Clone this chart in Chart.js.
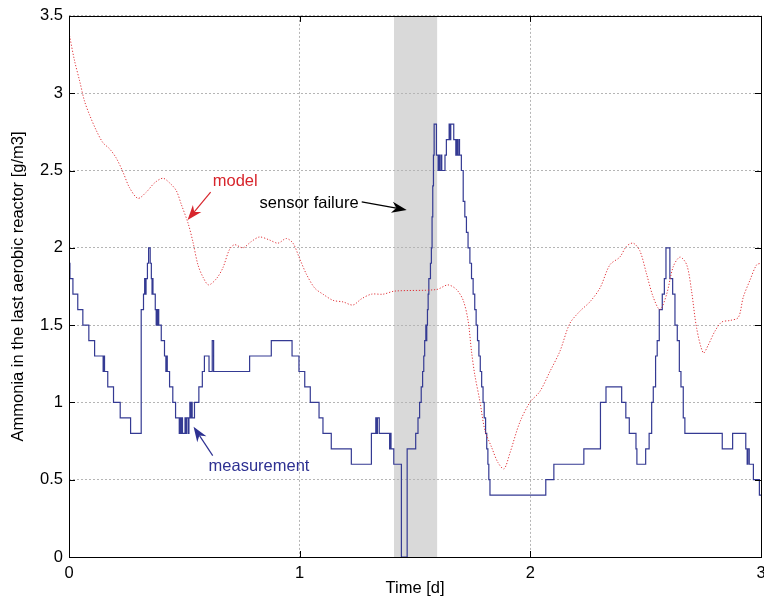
<!DOCTYPE html>
<html>
<head>
<meta charset="utf-8">
<title>Ammonia - model vs measurement</title>
<script src="https://cdn.jsdelivr.net/npm/chart.js@4/dist/chart.umd.min.js"></script>
<style>
  html, body { margin: 0; padding: 0; background: #fff; }
</style>
</head>
<body>
<canvas id="chart" width="764" height="599"></canvas>
<script>
// Axis ticks
const xTicks = [0, 1, 2, 3];
const yTicks = [0, 0.5, 1, 1.5, 2, 2.5, 3, 3.5];

// Measurement (staircase, value holds until next time)
const measTime = [0, 0.004, 0.017, 0.038, 0.060, 0.086, 0.111, 0.148, 0.151, 0.154, 0.168, 0.193, 0.222, 0.267,
  0.313, 0.323, 0.328, 0.331, 0.334, 0.340, 0.345, 0.352, 0.357, 0.360, 0.362, 0.364, 0.374, 0.378, 0.381, 0.384,
  0.387, 0.389, 0.400, 0.414, 0.420, 0.423, 0.426, 0.436, 0.450, 0.462, 0.478, 0.480, 0.485, 0.487, 0.492, 0.503,
  0.506, 0.509, 0.516, 0.520, 0.524, 0.527, 0.531, 0.534, 0.544, 0.563, 0.578, 0.587, 0.607, 0.621, 0.627, 0.783,
  0.877, 0.967, 0.997, 1.022, 1.046, 1.084, 1.101, 1.137, 1.224, 1.311, 1.330, 1.334, 1.337, 1.345, 1.390, 1.393,
  1.396, 1.408, 1.441, 1.466, 1.503, 1.513, 1.520, 1.527, 1.533, 1.538, 1.542, 1.547, 1.549, 1.551, 1.554, 1.557,
  1.560, 1.567, 1.571, 1.574, 1.577, 1.580, 1.583, 1.593, 1.600, 1.604, 1.607, 1.613, 1.616, 1.630, 1.636, 1.648,
  1.652, 1.655, 1.668, 1.677, 1.681, 1.684, 1.690, 1.693, 1.701, 1.709, 1.716, 1.723, 1.730, 1.738, 1.745, 1.752,
  1.759, 1.765, 1.771, 1.777, 1.783, 1.789, 1.795, 1.800, 1.806, 1.811, 1.816, 1.820, 1.825, 2.067, 2.102, 2.232,
  2.304, 2.328, 2.396, 2.414, 2.429, 2.458, 2.462, 2.500, 2.515, 2.526, 2.533, 2.543, 2.550, 2.559, 2.572, 2.581,
  2.588, 2.605, 2.617, 2.627, 2.637, 2.646, 2.653, 2.663, 2.670, 2.832, 2.877, 2.934, 2.940, 2.943, 2.949, 2.967,
  2.993, 3.0];
const measValue = [1.9, 1.8, 1.7, 1.6, 1.5, 1.4, 1.3, 1.2, 1.3, 1.2, 1.1, 1.0, 0.9, 0.8,
  1.6, 1.7, 1.8, 1.7, 1.8, 1.9, 2.0, 1.9, 1.8, 1.7, 1.8, 1.7, 1.6, 1.5, 1.6, 1.5,
  1.6, 1.5, 1.4, 1.3, 1.2, 1.3, 1.2, 1.1, 1.0, 0.9, 0.8, 0.9, 0.8, 0.9, 0.8, 0.9,
  0.8, 0.9, 0.8, 0.9, 1.0, 0.9, 1.0, 0.9, 1.0, 1.1, 1.2, 1.3, 1.2, 1.4, 1.2, 1.3,
  1.4, 1.3, 1.2, 1.1, 1.0, 0.9, 0.8, 0.7, 0.6, 0.8, 0.9, 0.8, 0.9, 0.8, 0.7, 0.8,
  0.7, 0.6, 0, 0.7, 0.8, 0.9, 1.0, 1.1, 1.2, 1.3, 1.4, 1.5, 1.4, 1.5, 1.6, 1.7,
  1.8, 1.9, 2.0, 2.2, 2.4, 2.6, 2.8, 2.6, 2.5, 2.6, 2.5, 2.6, 2.5, 2.6, 2.7, 2.8,
  2.7, 2.8, 2.7, 2.6, 2.7, 2.6, 2.7, 2.6, 2.5, 2.3, 2.2, 2.1, 2.0, 1.9, 1.8, 1.7,
  1.6, 1.5, 1.4, 1.3, 1.2, 1.1, 1.0, 0.9, 0.8, 0.7, 0.6, 0.5, 0.4, 0.5, 0.6, 0.7,
  1.0, 1.1, 1.0, 0.9, 0.8, 0.7, 0.6, 0.7, 0.8, 1.0, 1.1, 1.3, 1.4, 1.6, 1.7, 1.8,
  2.0, 1.8, 1.7, 1.5, 1.4, 1.2, 1.1, 0.9, 0.8, 0.7, 0.8, 0.7, 0.6, 0.7, 0.6, 0.5,
  0.4, 0.4];

// Model output
const modelTime = [0, 0.024, 0.046, 0.067, 0.089, 0.118, 0.147, 0.176, 0.205, 0.234, 0.262, 0.299, 0.335, 0.371,
  0.407, 0.436, 0.465, 0.487, 0.516, 0.537, 0.559, 0.581, 0.605, 0.639, 0.667, 0.696, 0.718, 0.754, 0.790, 0.826,
  0.870, 0.906, 0.942, 0.971, 1.0, 1.029, 1.065, 1.101, 1.145, 1.188, 1.231, 1.268, 1.311, 1.362, 1.412, 1.593,
  1.643, 1.680, 1.709, 1.730, 1.745, 1.759, 1.781, 1.803, 1.832, 1.860, 1.886, 1.911, 1.954, 1.998, 2.041, 2.085,
  2.128, 2.171, 2.215, 2.258, 2.302, 2.345, 2.388, 2.417, 2.446, 2.475, 2.504, 2.533, 2.562, 2.591, 2.620, 2.649,
  2.678, 2.699, 2.721, 2.750, 2.771, 2.800, 2.830, 2.866, 2.902, 2.923, 2.952, 2.981, 3.0];
const modelValue = [3.39, 3.21, 3.08, 2.95, 2.86, 2.76, 2.68, 2.64, 2.58, 2.49, 2.39, 2.32, 2.36, 2.42,
  2.45, 2.42, 2.37, 2.28, 2.16, 2.04, 1.89, 1.81, 1.76, 1.80, 1.87, 1.99, 2.02, 2.00, 2.04, 2.07,
  2.05, 2.03, 2.06, 2.03, 1.93, 1.83, 1.74, 1.70, 1.66, 1.65, 1.63, 1.67, 1.70, 1.70, 1.72, 1.73,
  1.76, 1.73, 1.66, 1.53, 1.33, 1.18, 1.01, 0.82, 0.71, 0.61, 0.57, 0.67, 0.87, 1.00, 1.07, 1.20,
  1.33, 1.51, 1.59, 1.65, 1.74, 1.89, 1.94, 2.01, 2.03, 1.98, 1.83, 1.68, 1.60, 1.70, 1.88, 1.94,
  1.89, 1.72, 1.48, 1.32, 1.37, 1.46, 1.52, 1.53, 1.55, 1.68, 1.79, 1.89, 1.90];

// Sensor failure window [start, end] in days
const failureWindow = [1.409, 1.596];

const FONT = '"Liberation Sans", Arial, Helvetica, sans-serif';

// Text annotations: label position and arrow (tail -> head), in data units
const notes = [
  { text: 'model', color: '#d7252c', at: [0.623, 2.43], from: [0.614, 2.36], to: [0.514, 2.18] },
  { text: 'sensor failure', color: '#000000', at: [0.826, 2.29], from: [1.269, 2.297], to: [1.464, 2.245] },
  { text: 'measurement', color: '#2e3192', at: [0.605, 0.585], from: [0.623, 0.656], to: [0.540, 0.843] }
];

function toPoints(xs, ys) {
  return xs.map((x, i) => ({ x: x, y: ys[i] }));
}

function drawArrow(ctx, x1, y1, x2, y2, color) {
  const ang = Math.atan2(y2 - y1, x2 - x1);
  const len = 15, half = 5.5;
  const c = Math.cos(ang), s = Math.sin(ang);
  ctx.strokeStyle = color;
  ctx.fillStyle = color;
  ctx.lineWidth = 1.2;
  ctx.beginPath();
  ctx.moveTo(x1, y1);
  ctx.lineTo(x2 - c * len * 0.7, y2 - s * len * 0.7);
  ctx.stroke();
  ctx.beginPath();
  ctx.moveTo(x2, y2);
  ctx.lineTo(x2 - len * c + half * s, y2 - len * s - half * c);
  ctx.lineTo(x2 - len * 0.7 * c, y2 - len * 0.7 * s);
  ctx.lineTo(x2 - len * c - half * s, y2 - len * s + half * c);
  ctx.closePath();
  ctx.fill();
}

// Grey band behind everything
const bandPlugin = {
  id: 'band',
  beforeDraw(chart) {
    const { ctx, chartArea, scales } = chart;
    const x0 = scales.x.getPixelForValue(failureWindow[0]);
    const x1 = scales.x.getPixelForValue(failureWindow[1]);
    ctx.save();
    ctx.fillStyle = '#d9d9d9';
    ctx.fillRect(x0, chartArea.top, x1 - x0, chartArea.bottom - chartArea.top);
    ctx.restore();
  }
};

// Frame, inward ticks and annotations
const framePlugin = {
  id: 'frame',
  afterDatasetsDraw(chart) {
    const { ctx, chartArea, scales } = chart;
    const { left, right, top, bottom } = chartArea;
    ctx.save();
    ctx.strokeStyle = '#000';
    ctx.lineWidth = 1;
    ctx.strokeRect(Math.round(left) + 0.5, Math.round(top) + 0.5,
      Math.round(right) - Math.round(left), Math.round(bottom) - Math.round(top));
    ctx.beginPath();
    xTicks.forEach(v => {
      const px = Math.round(scales.x.getPixelForValue(v)) + 0.5;
      ctx.moveTo(px, bottom); ctx.lineTo(px, bottom - 6);
      ctx.moveTo(px, top); ctx.lineTo(px, top + 6);
    });
    yTicks.forEach(v => {
      const py = Math.round(scales.y.getPixelForValue(v)) + 0.5;
      ctx.moveTo(left, py); ctx.lineTo(left + 6, py);
      ctx.moveTo(right, py); ctx.lineTo(right - 6, py);
    });
    ctx.stroke();

    ctx.font = '16.5px ' + FONT;
    ctx.textBaseline = 'middle';
    ctx.textAlign = 'left';
    notes.forEach(n => {
      ctx.fillStyle = n.color;
      ctx.fillText(n.text, scales.x.getPixelForValue(n.at[0]), scales.y.getPixelForValue(n.at[1]));
      drawArrow(ctx,
        scales.x.getPixelForValue(n.from[0]), scales.y.getPixelForValue(n.from[1]),
        scales.x.getPixelForValue(n.to[0]), scales.y.getPixelForValue(n.to[1]), n.color);
    });
    ctx.restore();
  }
};

new Chart(document.getElementById('chart').getContext('2d'), {
  type: 'line',
  data: {
    datasets: [{
      label: 'model',
      data: toPoints(modelTime, modelValue),
      borderColor: '#e0343a',
      borderWidth: 1,
      borderDash: [1.2, 1.8],
      pointRadius: 0,
      tension: 0.3,
      fill: false
    }, {
      label: 'measurement',
      data: toPoints(measTime, measValue),
      borderColor: '#343a93',
      borderWidth: 1.2,
      stepped: true,
      pointRadius: 0,
      fill: false
    }]
  },
  options: {
    responsive: false,
    animation: false,
    events: [],
    layout: { padding: { left: 0, right: 3, top: 15, bottom: 0 } },
    plugins: {
      legend: { display: false },
      tooltip: { enabled: false }
    },
    scales: {
      x: {
        type: 'linear',
        min: 0,
        max: 3,
        afterBuildTicks: s => { s.ticks = xTicks.map(v => ({ value: v })); },
        afterFit: s => { s.height = 42; s.paddingLeft = 0; s.paddingRight = 0; },
        ticks: {
          color: '#000',
          padding: 7,
          maxRotation: 0,
          font: { family: FONT, size: 16.5 },
          callback: v => String(v)
        },
        grid: { color: '#b5b5b5', lineWidth: 1, drawTicks: false },
        border: { display: false, dash: [2, 2] },
        title: {
          display: true,
          text: 'Time [d]',
          color: '#000',
          font: { family: FONT, size: 16.5 },
          padding: { top: 0, bottom: 1 }
        }
      },
      y: {
        type: 'linear',
        min: 0,
        max: 3.5,
        afterBuildTicks: s => { s.ticks = yTicks.map(v => ({ value: v })); },
        afterFit: s => { s.width = 69; },
        ticks: {
          color: '#000',
          padding: 6,
          font: { family: FONT, size: 16.5 },
          callback: v => String(v)
        },
        grid: { color: '#b5b5b5', lineWidth: 1, drawTicks: false },
        border: { display: false, dash: [2, 2] },
        title: {
          display: true,
          text: 'Ammonia in the last aerobic reactor [g/m3]',
          color: '#000',
          font: { family: FONT, size: 16.5 },
          padding: { top: 9, bottom: 0 }
        }
      }
    }
  },
  plugins: [bandPlugin, framePlugin]
});
</script>
</body>
</html>
